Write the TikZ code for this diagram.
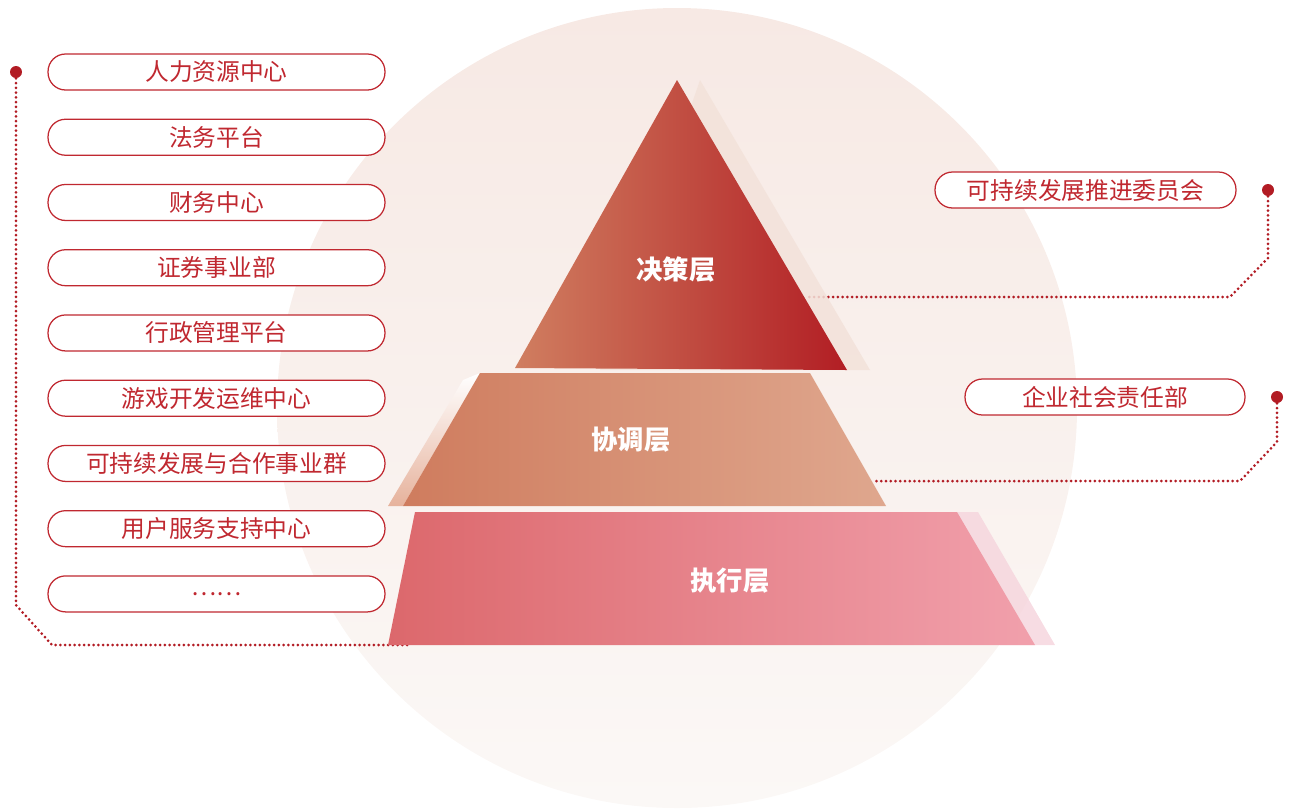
\documentclass[tikz,border=0pt]{standalone}
\usepackage{fontspec}
\setmainfont{Noto Sans CJK SC}
\usepackage{tikz}
\usetikzlibrary{positioning}

\definecolor{pillred}{RGB}{192,40,48}
\definecolor{dotred}{RGB}{178,28,36}
\definecolor{circtop}{RGB}{247,233,228}
\definecolor{circbot}{RGB}{251,248,246}
\definecolor{topl}{RGB}{208,126,96}
\definecolor{topr}{RGB}{178,30,36}
\definecolor{topsh}{RGB}{243,226,218}
\definecolor{midl}{RGB}{207,124,94}
\definecolor{midr}{RGB}{223,167,142}
\definecolor{midsh}{RGB}{230,178,156}
\definecolor{exel}{RGB}{220,104,108}
\definecolor{exer}{RGB}{241,160,172}
\definecolor{exesh}{RGB}{246,214,222}

\tikzset{
	pill/.style={draw=pillred, line width=0.025cm, fill=white, rounded corners=0.35cm, minimum width=6.74cm, minimum height=0.72cm, inner sep=0, text=pillred, font=\fontsize{13.5}{16}\selectfont},
	layer/.style={text=white, font=\fontsize{15}{18}\selectfont\bfseries},
	bigdot/.style={circle, fill=dotred, minimum size=0.24cm, inner sep=0},
	dotline/.style={dotred, line width=0.06cm, line cap=round, dash pattern=on 0pt off 0.095cm}
}

\begin{document}
\begin{tikzpicture}[x=0.02cm, y=-0.02cm, node distance=0.56cm]
		\useasboundingbox (0,0) rectangle (1300,809);
		\shade[top color=circtop, bottom color=circbot] (677,408) circle (400);

		\node[pill] (hr) at (216.5,72) {人力资源中心};
		\node[pill, below=of hr] (legal) {法务平台};
		\node[pill, below=of legal] (finance) {财务中心};
		\node[pill, below=of finance] (securities) {证券事业部};
		\node[pill, below=of securities] (admin) {行政管理平台};
		\node[pill, below=of admin] (games) {游戏开发运维中心};
		\node[pill, below=of games] (scc) {可持续发展与合作事业群};
		\node[pill, below=of scc] (service) {用户服务支持中心};
		\node[pill, below=of service] (more) {……};

		\node[pill, minimum width=6.02cm] (committee) at (1085.5,190) {可持续发展推进委员会};
		\node[pill, minimum width=5.6cm] (csr) at (1105,397) {企业社会责任部};

		\node[bigdot] (ldot) at (16,72) {};
		\node[bigdot] (cdot) at (1268,190) {};
		\node[bigdot] (rdot) at (1277,397) {};

		\coordinate (execl) at (410,645);
		\coordinate (decr) at (806,297);
		\coordinate (coor) at (873,481);

		\draw[dotline] (ldot) -- (16,605) -- (52,645) -- (execl);
		\draw[dotline] (cdot) -- (1268,258) -- (1230,297) -- (decr);
		\draw[dotline] (rdot) -- (1277,442) -- (1240,481) -- (coor);

		\fill[topsh, opacity=0.85] (700,80) -- (870,370) -- (600,370) -- cycle;
		\shade[left color=topl, right color=topr] (677,80) -- (847,370) -- (515,368) -- cycle;
		\shade[top color=white, bottom color=midsh] (463,380) -- (480,373) -- (403,506) -- (388,506) -- cycle;
		\shade[left color=midl, right color=midr] (480,373) -- (810,373) -- (886,506) -- (403,506) -- cycle;
		\fill[exesh, opacity=0.85] (900,512) -- (978,512) -- (1055,645) -- (1000,645) -- cycle;
		\shade[left color=exel, right color=exer] (415,512) -- (957,512) -- (1035,645) -- (388,645) -- cycle;

		\node[layer] (decision) at (676,270) {决策层};
		\node[layer] (coordination) at (631,440) {协调层};
		\node[layer] (execution) at (730,581) {执行层};
	\end{tikzpicture}
\end{document}
